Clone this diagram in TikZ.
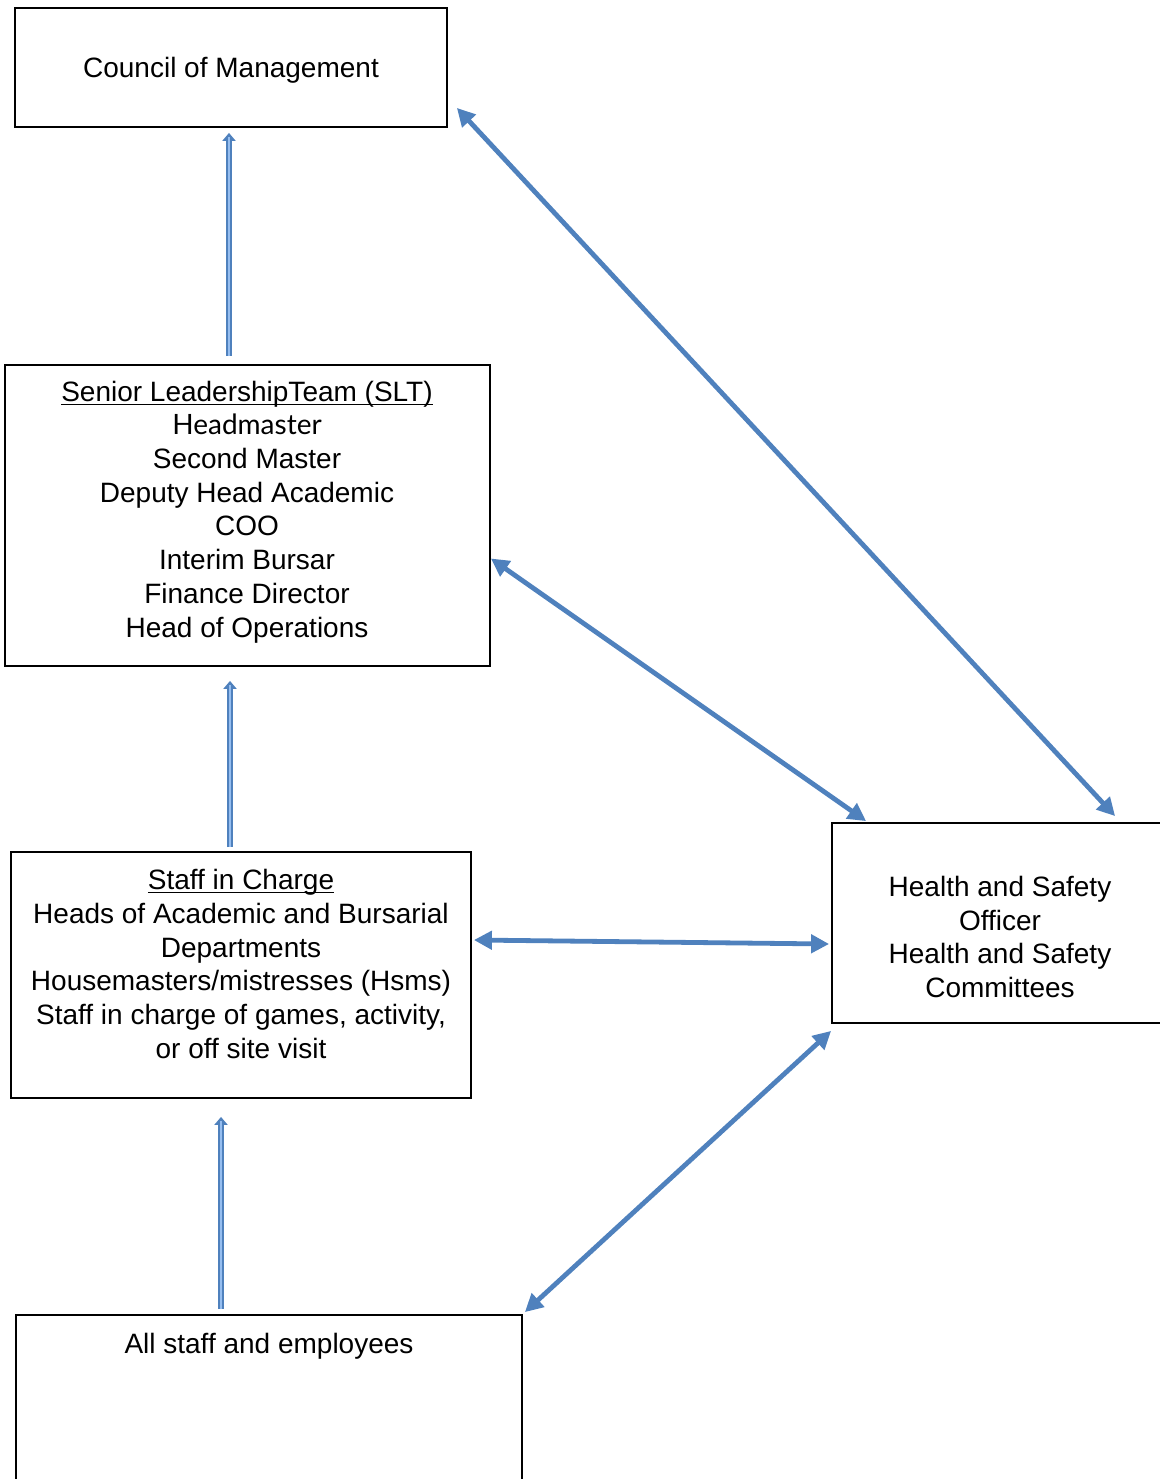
\documentclass[tikz,border=0pt]{standalone}
\usepackage{fontspec}
\setmainfont{Liberation Sans}
\newfontfamily\gillfont{Lato}
\usepackage{tikz}
\usetikzlibrary{calc,arrows.meta}
\definecolor{hsblue}{RGB}{79,129,189}
\definecolor{hslight}{RGB}{150,190,240}
\newcommand{\headline}[1]{\underline{\smash{#1}}}

\begin{document}
\begin{tikzpicture}[x=0.5pt, y=-0.5pt,
    every node/.style={font=\fontsize{14}{16.85}\selectfont, inner sep=0pt},
    box/.style={draw, line width=0.9pt, rectangle},
    lines/.style={align=center},
    both/.style={draw=hsblue, line width=2.4pt,
      {Triangle[length=9pt,width=9pt]}-{Triangle[length=9pt,width=9pt]}},
    up/.style={draw=hsblue, line width=3.2pt, -{Triangle[length=4pt,width=6.5pt]},
      postaction={draw=hslight, line width=1pt, -, shorten >=2pt}}]
    \useasboundingbox (0,0) rectangle (1160,1479);

    % boxes
    \node[box, minimum width=216pt, minimum height=59.5pt] (council) at (231,67.5) {};
    \node[box, minimum width=242.5pt, minimum height=150.5pt] (slt) at (247.5,515.5) {};
    \node[box, minimum width=230pt, minimum height=123pt] (staff) at (241,975) {};
    \node[box, minimum width=168pt, minimum height=100pt] (hs) at (1000,923) {};
    \node[box, minimum width=253pt, minimum height=87.5pt] (all) at (269,1402.5) {};

    % texts
    \node[lines] (counciltext) at (231,70) {Council of Management};
    \node[lines] (slttext) at (247,522) {\headline{Senior LeadershipTeam (SLT)}\\
      {\gillfont Headmaster}\\ Second Master\\ Deputy Head Academic\\ COO\\
      Interim Bursar\\ Finance Director\\ Head of Operations};
    \node[lines] (stafftext) at (241,974) {\headline{Staff in Charge}\\
      Heads of Academic and Bursarial\\ Departments\\
      Housemasters/mistresses (Hsms)\\ Staff in charge of games, activity,\\
      or off site visit};
    \node[lines] (hstext) at (1000,937) {Health and Safety\\ Officer\\
      Health and Safety\\ Committees};
    \node[lines] (alltext) at (269,1346) {All staff and employees};

    % reporting lines
    \draw[up] ($(council.south |- slt.north)+(-2,-8)$) -- ($(council.south)+(-2,5)$);
    \draw[up] ($(slt.south |- staff.north)+(-17.5,-4)$) -- ($(slt.south)+(-17.5,14)$);
    \draw[up] ($(staff.south |- all.north)+(-20,-5)$) -- ($(staff.south)+(-20,18)$);

    % health and safety links
    \draw[both] ($(council.south east)+(9,-20)$) -- ($(hs.north west)+(284,-6)$);
    \draw[both] ($(slt.east)+(0,43)$) -- ($(hs.north west)+(35,-1)$);
    \draw[both] ($(staff.east)+(2,-35)$) -- ($(hs.west)+(-2,21)$);
    \draw[both] ($(all.north east)+(2,-2)$) -- ($(hs.south west)+(0,7)$);
  \end{tikzpicture}
\end{document}
